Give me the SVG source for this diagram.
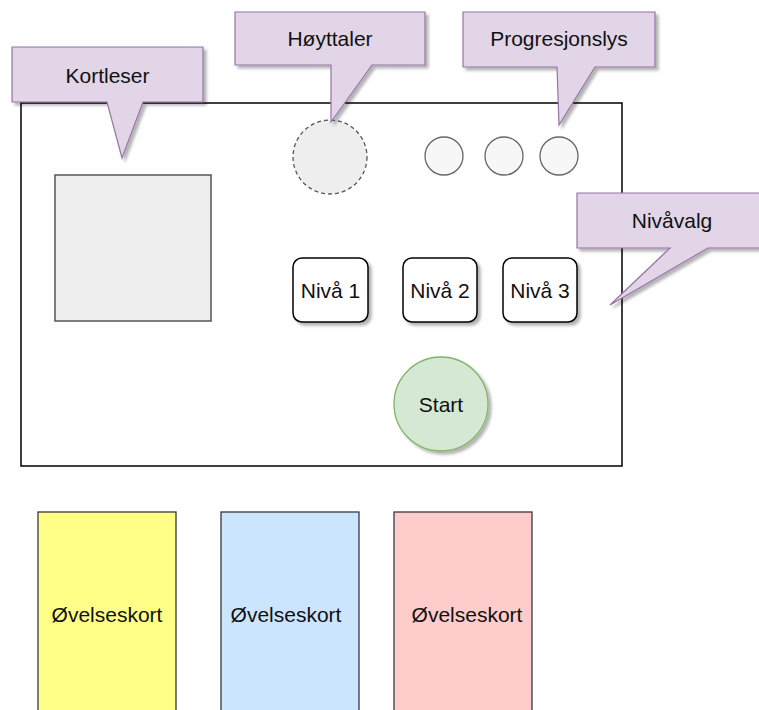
<svg xmlns="http://www.w3.org/2000/svg" width="759" height="710" viewBox="0 0 759 710">
  <style>
    text { font-family: "Liberation Sans", Arial, Helvetica, sans-serif; font-size: 21px; fill: #111; text-anchor: middle; }
    .callout { fill: #e1d5e7; stroke: #9673a6; stroke-width: 1.2; filter: url(#shadow); }
    .btn { fill: #ffffff; stroke: #000; stroke-width: 1.5; filter: url(#shadow); }
    .light { fill: #f7f7f7; stroke: #666; stroke-width: 1.3; }
    .card { stroke: #36393d; stroke-width: 1.3; }
  </style>
  <defs>
    <filter id="shadow" x="-20%" y="-20%" width="150%" height="150%">
      <feGaussianBlur in="SourceAlpha" stdDeviation="1.5"/>
      <feOffset dx="3" dy="3" result="b"/>
      <feComponentTransfer><feFuncA type="linear" slope="0.3"/></feComponentTransfer>
      <feMerge><feMergeNode/><feMergeNode in="SourceGraphic"/></feMerge>
    </filter>
  </defs>
  <rect width="759" height="710" fill="#ffffff"/>

  <g id="panel">
    <rect x="21" y="103" width="601" height="363" fill="#ffffff" stroke="#000" stroke-width="1.5"/>
  </g>

  <g id="kortleser-slot">
    <rect x="55" y="175" width="156" height="146" fill="#eeeeee" stroke="#555" stroke-width="1.5"/>
  </g>

  <g id="hoyttaler-circle">
    <circle cx="330" cy="157" r="37" fill="#eeeeee" stroke="#555" stroke-width="1.3" stroke-dasharray="4 3"/>
  </g>

  <g id="lys1"><circle class="light" cx="444" cy="156" r="19"/></g>
  <g id="lys2"><circle class="light" cx="504" cy="156" r="19"/></g>
  <g id="lys3"><circle class="light" cx="559" cy="156" r="19"/></g>

  <g id="niva1">
    <rect class="btn" x="293" y="258" width="75" height="64" rx="9"/>
    <text x="330.5" y="298">Nivå 1</text>
  </g>
  <g id="niva2">
    <rect class="btn" x="403" y="258" width="74" height="64" rx="9"/>
    <text x="440" y="298">Nivå 2</text>
  </g>
  <g id="niva3">
    <rect class="btn" x="503" y="258" width="74" height="64" rx="9"/>
    <text x="540" y="298">Nivå 3</text>
  </g>

  <g id="start">
    <circle cx="441" cy="404" r="47" fill="#d5e8d4" stroke="#82b366" stroke-width="1.3" filter="url(#shadow)"/>
    <text x="441" y="412">Start</text>
  </g>

  <g id="callout-kortleser">
    <path class="callout" d="M12,47 H203 V102 H143 L122,158 L107,102 H12 Z"/>
    <text x="107.5" y="83">Kortleser</text>
  </g>
  <g id="callout-hoyttaler">
    <path class="callout" d="M235,12 H425 V65 H372 L331,122 L331,65 H235 Z"/>
    <text x="330" y="46">Høyttaler</text>
  </g>
  <g id="callout-progresjonslys">
    <path class="callout" d="M463,12 H655 V67 H595 L559,125 L557,67 H463 Z"/>
    <text x="559" y="46">Progresjonslys</text>
  </g>
  <g id="callout-nivavalg">
    <path class="callout" d="M577,193 H768 V248 H708 L610,305 L670,248 H577 Z"/>
    <text x="672" y="228">Nivåvalg</text>
  </g>

  <g id="kort-gul">
    <rect class="card" x="38" y="512" width="138" height="210" fill="#ffff88"/>
    <text x="107" y="622">Øvelseskort</text>
  </g>
  <g id="kort-bla">
    <rect class="card" x="221" y="512" width="138" height="210" fill="#cce5ff"/>
    <text x="286" y="622">Øvelseskort</text>
  </g>
  <g id="kort-rod">
    <rect class="card" x="394" y="512" width="138" height="210" fill="#ffcccc"/>
    <text x="467" y="622">Øvelseskort</text>
  </g>

  <g id="connectors"></g>
</svg>
